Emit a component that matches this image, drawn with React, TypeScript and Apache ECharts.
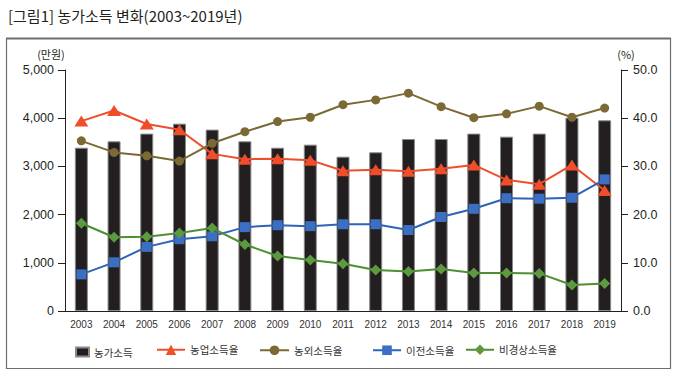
import React, { useEffect, useRef } from 'react';
import * as echarts from 'echarts';

const years = ['2003','2004','2005','2006','2007','2008','2009','2010','2011','2012','2013','2014','2015','2016','2017','2018','2019'];
const farmIncome = [3388,3520,3680,3887,3763,3520,3388,3451,3202,3292,3568,3568,3680,3617,3680,4010,3956];
const agriRate = [39.4,41.6,38.8,37.6,32.6,31.5,31.6,31.3,29.1,29.3,29.0,29.5,30.3,27.2,26.3,30.3,25.0];
const nonAgriRate = [35.3,32.9,32.2,31.1,34.8,37.2,39.3,40.2,42.8,43.8,45.2,42.4,40.1,40.9,42.5,40.2,42.1];
const transferRate = [7.6,10.1,13.3,14.9,15.5,17.4,17.8,17.6,18.0,18.0,16.8,19.5,21.2,23.4,23.3,23.5,27.3];
const irregularRate = [18.2,15.3,15.4,16.2,17.2,13.8,11.4,10.6,9.8,8.5,8.2,8.7,7.9,7.9,7.8,5.4,5.7];

const seriesNames = ['농가소득','농업소득율','농외소득율','이전소득율','비경상소득율'];
const titleText = '[그림1] 농가소득 변화(2003~2019년)';
const leftUnit = '(만원)';
const rightUnit = '(%)';

const KR = '"Noto Sans CJK KR", "Noto Sans", sans-serif';
const NUM = '"Liberation Sans", Arial, sans-serif';

export default function App() {
  const ref = useRef<HTMLDivElement>(null);
  useEffect(() => {
    if (!ref.current) return;
    const chart = echarts.init(ref.current, null, { renderer: 'svg' });
    const legendText = { fontFamily: KR, fontSize: 10.5, color: '#333' };
    const mkLegend = (name: string, left: number, w: number, h: number, icon?: string) => ({
      data: [icon ? { name, icon } : { name }],
      left, top: 351 - h / 2, itemWidth: w, itemHeight: h, itemGap: 0,
      selectedMode: false, textStyle: legendText, padding: 0,
    });
    chart.setOption({
      animation: false,
      backgroundColor: '#fff',
      graphic: [
        { type: 'text', left: 8, top: 8, style: { text: titleText, font: `15px ${KR}`, fill: '#231f20' } },
        { type: 'rect', shape: { x: 6.5, y: 38.5, width: 664, height: 330 }, style: { fill: 'none', stroke: '#6e6e6e', lineWidth: 1.2 } },
        { type: 'line', shape: { x1: 6, y1: 38.5, x2: 671, y2: 38.5 }, style: { stroke: '#6e6e6e', lineWidth: 2 } },
        { type: 'text', x: 51, y: 54, style: { text: leftUnit, font: `11px ${KR}`, fill: '#231f20', align: 'center', verticalAlign: 'middle' } },
        { type: 'text', x: 626, y: 54, style: { text: rightUnit, font: `11px ${KR}`, fill: '#231f20', align: 'center', verticalAlign: 'middle' } },
      ],
      legend: [
        mkLegend(seriesNames[0], 75, 13, 9, 'rect'),
        mkLegend(seriesNames[1], 156, 28, 13),
        mkLegend(seriesNames[2], 259, 29, 12),
        mkLegend(seriesNames[3], 372, 28, 12),
        mkLegend(seriesNames[4], 465, 28, 13),
      ],
      grid: { left: 65, right: 59, top: 70, bottom: 64 },
      xAxis: {
        type: 'category', data: years, boundaryGap: true,
        axisLine: { lineStyle: { color: '#231f20', width: 1 } },
        axisTick: { show: false },
        axisLabel: { interval: 0, margin: 8, fontFamily: NUM, fontSize: 10, color: '#333' },
      },
      yAxis: [
        {
          type: 'value', min: 0, max: 5000, interval: 1000, position: 'left',
          axisLine: { show: true, lineStyle: { color: '#231f20', width: 1 } },
          axisTick: { show: true, length: 7, lineStyle: { color: '#231f20' } },
          splitLine: { show: false },
          axisLabel: { margin: 11, fontFamily: NUM, fontSize: 12.5, color: '#231f20',
            formatter: (v: number) => v.toLocaleString('en-US') },
        },
        {
          type: 'value', min: 0, max: 50, interval: 10, position: 'right',
          axisLine: { show: true, lineStyle: { color: '#231f20', width: 1 } },
          axisTick: { show: true, length: 7, lineStyle: { color: '#231f20' } },
          splitLine: { show: false },
          axisLabel: { margin: 12, fontFamily: NUM, fontSize: 12.5, color: '#231f20',
            formatter: (v: number) => v.toFixed(1) },
        },
      ],
      series: [
        {
          name: seriesNames[0], type: 'bar', yAxisIndex: 0, data: farmIncome, barWidth: 13,
          itemStyle: { color: '#231f20', borderColor: '#8a8a8a', borderWidth: 1 },
        },
        {
          name: seriesNames[1], type: 'line', yAxisIndex: 1, data: agriRate,
          symbol: 'triangle', symbolSize: [14, 11],
          lineStyle: { color: '#f04e2a', width: 2 }, itemStyle: { color: '#f04e2a' },
        },
        {
          name: seriesNames[2], type: 'line', yAxisIndex: 1, data: nonAgriRate,
          symbol: 'circle', symbolSize: 9,
          lineStyle: { color: '#7b6a33', width: 2 }, itemStyle: { color: '#7b6a33' },
        },
        {
          name: seriesNames[3], type: 'line', yAxisIndex: 1, data: transferRate,
          symbol: 'rect', symbolSize: 10,
          lineStyle: { color: '#2d63b8', width: 2 }, itemStyle: { color: '#3a6fc4' },
        },
        {
          name: seriesNames[4], type: 'line', yAxisIndex: 1, data: irregularRate,
          symbol: 'diamond', symbolSize: 11,
          lineStyle: { color: '#4e8f33', width: 2 }, itemStyle: { color: '#5b9a3e' },
        },
      ],
    });
    return () => chart.dispose();
  }, []);
  return <div ref={ref} style={{ position: 'fixed', left: 0, top: 0, width: 680, height: 375, background: '#fff' }} />;
}
